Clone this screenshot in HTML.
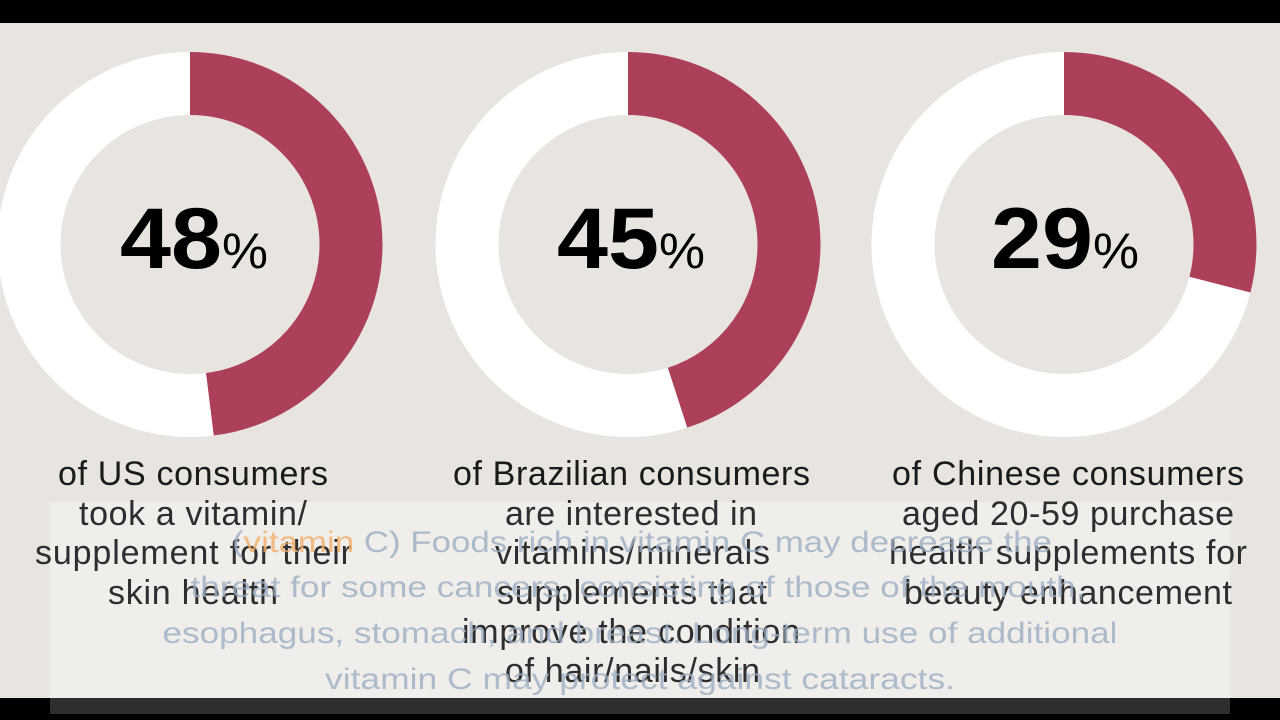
<!DOCTYPE html>
<html><head><meta charset="utf-8"><style>
html,body{margin:0;padding:0;background:#000;}
svg{display:block}
</style></head><body>
<svg width="1280" height="720" viewBox="0 0 1280 720" xmlns="http://www.w3.org/2000/svg">
<rect x="0" y="0" width="1280" height="720" fill="#000"/>
<rect x="0" y="23" width="1280" height="675" fill="#e8e5e0"/>
<g>
<circle cx="190" cy="244.5" r="161" fill="none" stroke="#fff" stroke-width="63"/>
<circle cx="190" cy="244.5" r="161" fill="none" stroke="#ad4059" stroke-width="63" stroke-dasharray="485.6 2000" transform="rotate(-90 190 244.5)"/>
<circle cx="628" cy="244.5" r="161" fill="none" stroke="#fff" stroke-width="63"/>
<circle cx="628" cy="244.5" r="161" fill="none" stroke="#ad4059" stroke-width="63" stroke-dasharray="455.2 2000" transform="rotate(-90 628 244.5)"/>
<circle cx="1064" cy="244.5" r="161" fill="none" stroke="#fff" stroke-width="63"/>
<circle cx="1064" cy="244.5" r="161" fill="none" stroke="#ad4059" stroke-width="63" stroke-dasharray="293.4 2000" transform="rotate(-90 1064 244.5)"/>
</g>
<g font-family="Liberation Sans, sans-serif" font-weight="bold" fill="#000">
<text x="120" y="268" font-size="86" textLength="102" lengthAdjust="spacingAndGlyphs">48</text>
<text x="222" y="268" font-size="50" textLength="46" lengthAdjust="spacingAndGlyphs" font-weight="normal">%</text>
<text x="557" y="268" font-size="86" textLength="102" lengthAdjust="spacingAndGlyphs">45</text>
<text x="659" y="268" font-size="50" textLength="46" lengthAdjust="spacingAndGlyphs" font-weight="normal">%</text>
<text x="991" y="268" font-size="86" textLength="102" lengthAdjust="spacingAndGlyphs">29</text>
<text x="1093" y="268" font-size="50" textLength="46" lengthAdjust="spacingAndGlyphs" font-weight="normal">%</text>
</g>
<rect x="50" y="502" width="1180" height="196" fill="#fff" fill-opacity="0.35"/>
<rect x="50" y="698" width="1180" height="16" fill="#2e2e2e"/>
<g font-family="Liberation Sans, sans-serif" font-size="34" fill="#1a1a1a" lengthAdjust="spacingAndGlyphs">
<text x="58" y="485" textLength="270">of US consumers</text>
<text x="79" y="525" textLength="228" fill="#2e2e2e">took a vitamin/</text>
<text x="35" y="564" textLength="317" fill="#2e2e2e">supplement for their</text>
<text x="108" y="604" textLength="170" fill="#2e2e2e">skin health</text>
<text x="453" y="485" textLength="357">of Brazilian consumers</text>
<text x="505" y="525" textLength="252" fill="#2e2e2e">are interested in</text>
<text x="495" y="564" textLength="275" fill="#2e2e2e">vitamins/minerals</text>
<text x="497" y="604" textLength="270" fill="#2e2e2e">supplements that</text>
<text x="462" y="643" textLength="338" fill="#2e2e2e">improve the condition</text>
<text x="505" y="682" textLength="255" fill="#2e2e2e">of hair/nails/skin</text>
<text x="892" y="485" textLength="352">of Chinese consumers</text>
<text x="902" y="525" textLength="332" fill="#2e2e2e">aged 20-59 purchase</text>
<text x="889" y="564" textLength="358" fill="#2e2e2e">health supplements for</text>
<text x="904" y="604" textLength="328" fill="#2e2e2e">beauty enhancement</text>
</g>
<g font-family="Liberation Sans, sans-serif" font-size="30" fill="#9aaec4" fill-opacity="0.8" text-anchor="middle">
<text x="642" y="552" textLength="820" lengthAdjust="spacingAndGlyphs">(<tspan fill="#f0ac68">vitamin</tspan> C) Foods rich in vitamin C may decrease the</text>
<text x="638" y="597" textLength="895" lengthAdjust="spacingAndGlyphs">threat for some cancers, consisting of those of the mouth,</text>
<text x="640" y="643" textLength="955" lengthAdjust="spacingAndGlyphs">esophagus, stomach, and breast. Long-term use of additional</text>
<text x="640" y="689" textLength="630" lengthAdjust="spacingAndGlyphs">vitamin C may protect against cataracts.</text>
</g>
</svg>
</body></html>
